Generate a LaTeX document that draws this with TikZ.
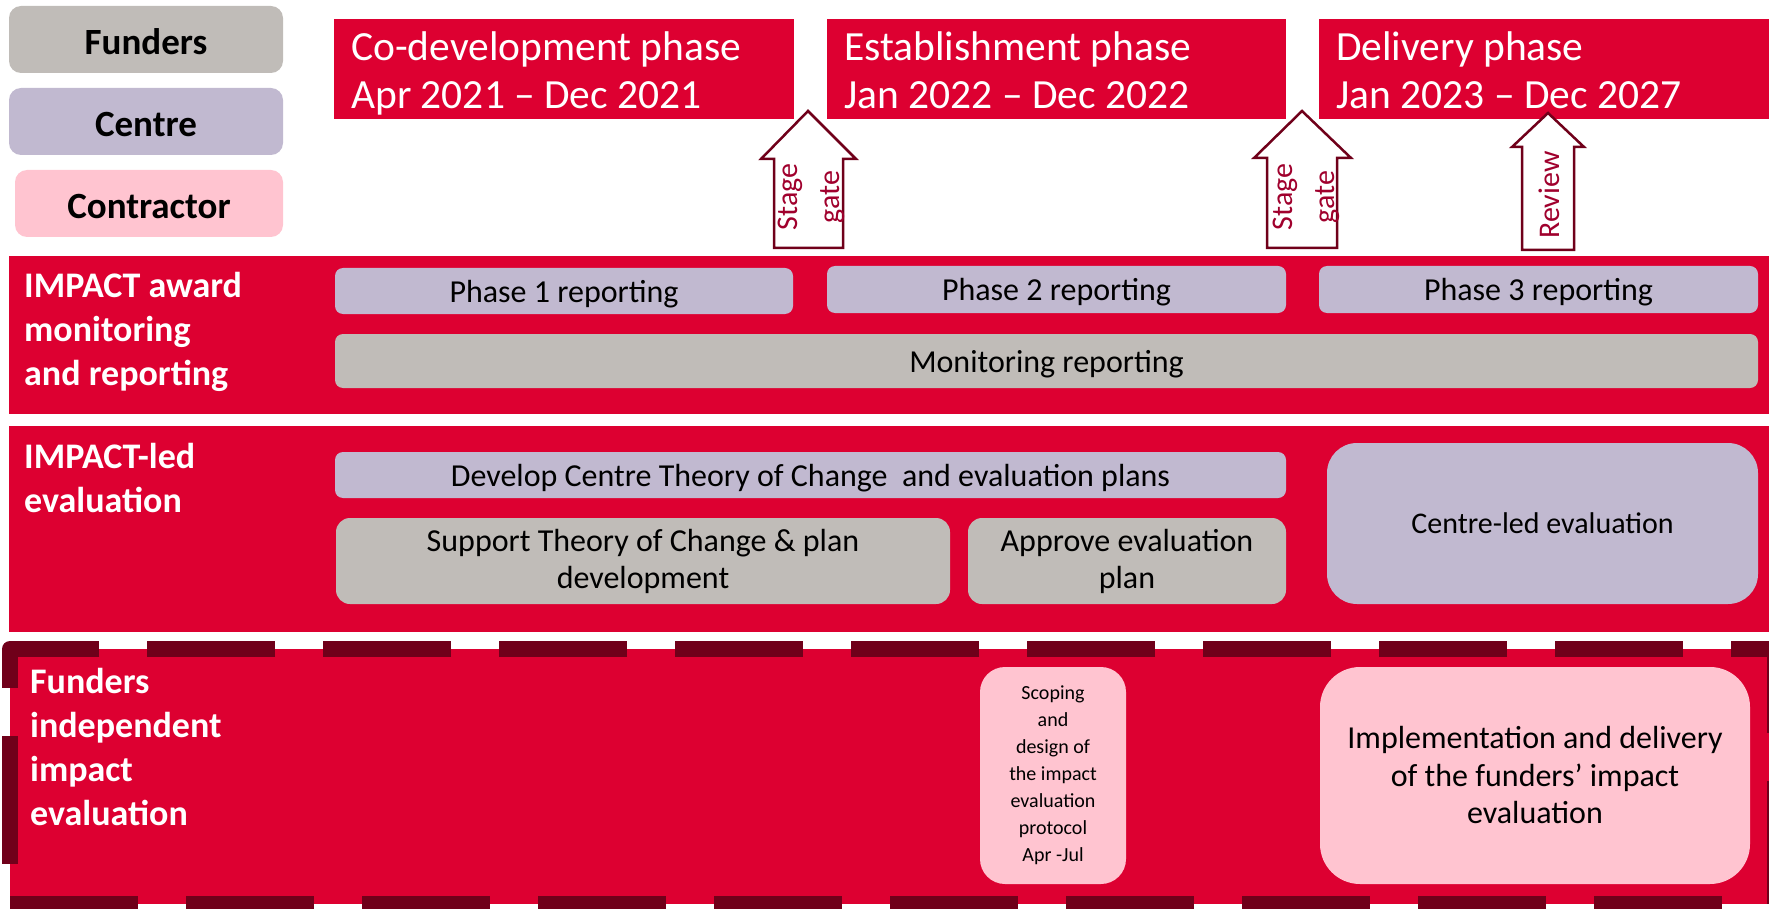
\documentclass[tikz,border=0pt]{standalone}
\usepackage{fontspec}
\setmainfont{Carlito}
\definecolor{bandred}{RGB}{221,0,49}
\definecolor{darkred}{RGB}{112,0,26}
\definecolor{gatered}{RGB}{160,0,45}
\definecolor{funderfill}{RGB}{192,188,184}
\definecolor{centrefill}{RGB}{193,185,208}
\definecolor{contractfill}{RGB}{255,196,208}
\tikzset{
  legendbox/.style={rounded corners=12pt, inner sep=0pt, minimum height=67pt, text height=31pt, text depth=0pt, font=\fontsize{37}{42}\selectfont\bfseries},
  phasehead/.style={fill=bandred, text=white, anchor=north west, inner xsep=17pt, inner ysep=0pt, minimum height=100pt, text height=32pt, text depth=50pt, align=flush left, font=\fontsize{41.5}{48}\selectfont},
  bandlabel/.style={text=white, anchor=north west, inner sep=0pt, align=left, font=\fontsize{36}{44}\selectfont\bfseries},
  taskbox/.style={rounded corners=8pt, inner sep=0pt, align=center, font=\fontsize{32}{37}\selectfont},
  oneline/.style={text height=24pt, text depth=2pt},
  gatearrow/.style={darkred, line width=2.5pt, fill=white, line join=miter},
  gatetext/.style={text=gatered, rotate=90, align=center, inner sep=0pt, font=\fontsize{30}{42}\selectfont},
}
\begin{document}
\begin{tikzpicture}[x=1pt, y=-1pt]
  \useasboundingbox (0,0) rectangle (1769,909);
  % legend
  \node [legendbox, fill=funderfill, minimum width=274pt] (funders) at (146,39.5) {Funders};
  \node [legendbox, fill=centrefill, minimum width=274pt] (centre) at (146,121.5) {Centre};
  \node [legendbox, fill=contractfill, minimum width=268pt] (contractor) at (149,203.5) {Contractor};
  % phases
  \node [phasehead, text width=426pt] (codev) at (334,19) {Co-development phase\\Apr 2021 – Dec 2021};
  \node [phasehead, text width=425pt] (establish) at (827,19) {Establishment phase\\Jan 2022 – Dec 2022};
  \node [phasehead, text width=416pt] (delivery) at (1319,19) {Delivery phase\\Jan 2023 – Dec 2027};
  % gates
  \draw [gatearrow] (774,248) -- (774,159) -- (761,159) -- (808,111) -- (856,159) -- (843,159) -- (843,248) -- cycle;
  \node [gatetext] (gate1) at (811,197) {Stage\\gate};
  \draw [gatearrow] (1267,248) -- (1267,158) -- (1254,158) -- (1302,111) -- (1351,158) -- (1337,158) -- (1337,248) -- cycle;
  \node [gatetext] (gate2) at (1306,197) {Stage\\gate};
  \draw [gatearrow] (1522,250) -- (1522,147) -- (1512,147) -- (1548,113) -- (1584,147) -- (1574,147) -- (1574,250) -- cycle;
  \node [gatetext] (review) at (1549,195) {Review};
  % bands
  \fill [bandred] (9,256) rectangle (1769,414);
  \fill [bandred] (9,426) rectangle (1769,632);
  \fill [bandred] (10,649) rectangle (1775,904);
  \draw [darkred, line width=16pt, dash pattern=on 128pt off 48pt, line join=round] (10,904) -- (1775,904) -- (1775,649) -- (10,649) -- cycle;
  \node [bandlabel] (awardlab) at (24,272) {IMPACT award\\monitoring\\and reporting};
  \node [bandlabel] (ledlab) at (24,443) {IMPACT-led\\evaluation};
  \node [bandlabel] (indeplab) at (30,668) {Funders\\independent\\impact\\evaluation};
  % monitoring and reporting
  \node [taskbox, oneline, fill=centrefill, minimum width=458pt, minimum height=46pt] (phase1) at (564,291) {Phase 1 reporting};
  \node [taskbox, oneline, fill=centrefill, minimum width=459pt, minimum height=47pt] (phase2) at (1056.5,289.5) {Phase 2 reporting};
  \node [taskbox, oneline, fill=centrefill, minimum width=439pt, minimum height=47pt] (phase3) at (1538.5,289.5) {Phase 3 reporting};
  \node [taskbox, oneline, fill=funderfill, minimum width=1423pt, minimum height=54pt] (monitor) at (1046.5,361) {Monitoring reporting};
  % evaluation
  \node [taskbox, oneline, fill=centrefill, minimum width=951pt, minimum height=46pt] (develop) at (810.5,475) {Develop Centre Theory of Change~ and evaluation plans};
  \node [taskbox, fill=funderfill, rounded corners=14pt, minimum width=614pt, minimum height=86pt] (support) at (643,561) {Support Theory of Change \& plan\\development};
  \node [taskbox, fill=funderfill, rounded corners=14pt, minimum width=318pt, minimum height=86pt] (approve) at (1127,561) {Approve evaluation\\plan};
  \node [taskbox, fill=centrefill, rounded corners=30pt, minimum width=431pt, minimum height=161pt, font=\fontsize{30}{36}\selectfont] (centreled) at (1542.5,523.5) {Centre-led evaluation};
  % independent evaluation
  \node [taskbox, fill=contractfill, rounded corners=25pt, minimum width=146pt, minimum height=217pt, font=\fontsize{20}{27}\selectfont] (scoping) at (1053,775.5) {Scoping\\and\\design of\\the impact\\evaluation\\protocol\\Apr -Jul};
  \node [taskbox, fill=contractfill, rounded corners=40pt, minimum width=430pt, minimum height=217pt, font=\fontsize{32}{37.5}\selectfont] (implement) at (1535,775.5) {Implementation and delivery\\of the funders’ impact\\evaluation};
\end{tikzpicture}
\end{document}
